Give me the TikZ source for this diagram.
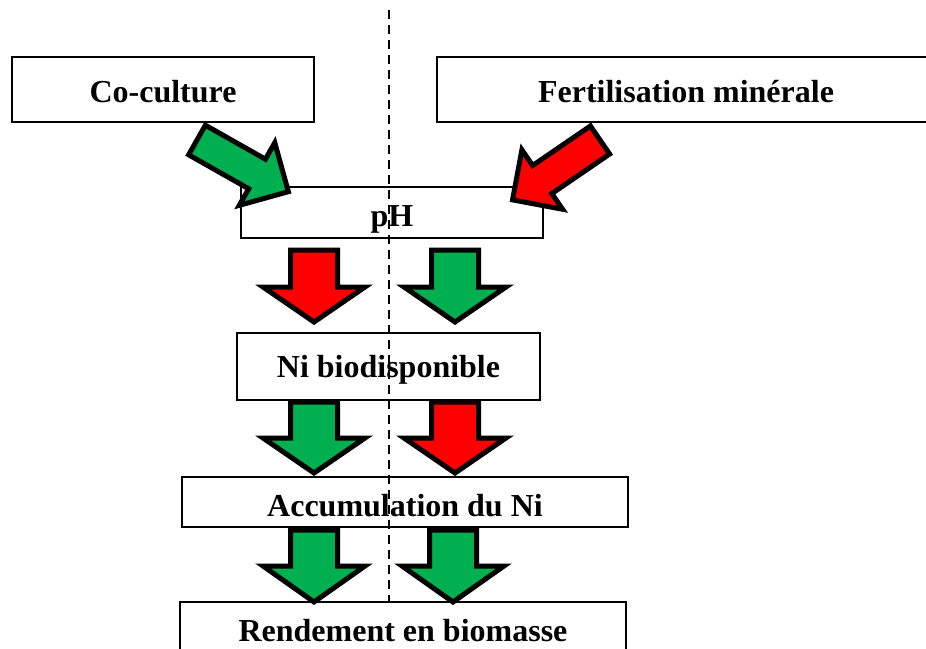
\documentclass[tikz,border=0pt]{standalone}
\usepackage{fontspec}
\setmainfont{Liberation Serif}
\definecolor{okgreen}{HTML}{00B050}
\definecolor{badred}{HTML}{FF0000}
\tikzset{
  box/.style={draw=black, line width=1.6pt, fill=white, inner sep=0pt},
  lbl/.style={inner sep=0pt, font=\bfseries\fontsize{32}{36}\selectfont},
  fatarrowstyle/.style={draw=black, line width=5pt, line join=miter, miter limit=10},
  sepline/.style={draw=black, line width=1.5pt, dash pattern=on 9pt off 6pt}
}
% #1 colour, #2 x, #3 y (tail centre), #4 angle, #5 length, #6 head length, #7 shaft width, #8 head width
\newcommand\fatarrow[8]{%
  \begin{scope}[shift={(#2,#3)}, rotate=#4]
    \filldraw[fatarrowstyle, fill=#1]
      (0,-#7/2) -- (#5-#6,-#7/2) -- (#5-#6,-#8/2) -- (#5,0) -- (#5-#6,#8/2)
      -- (#5-#6,#7/2) -- (0,#7/2) -- cycle;
  \end{scope}}
\begin{document}
\begin{tikzpicture}[x=1pt, y=-1pt]
\clip (0,0) rectangle (926,648);
\useasboundingbox (0,0) rectangle (926,648);
% boxes
\node[box, minimum width=302pt, minimum height=65pt] (cocult) at (163,89.5) {};
\node[box, minimum width=498pt, minimum height=65pt] (fert) at (686,89.5) {};
\node[box, minimum width=302pt, minimum height=51pt] (ph) at (392,212.5) {};
\node[box, minimum width=303pt, minimum height=67pt] (ni) at (388.5,366.5) {};
\node[box, minimum width=446pt, minimum height=50pt] (acc) at (405,502) {};
\node[box, minimum width=446pt, minimum height=63pt] (rend) at (403,633.5) {};
% separator
\coordinate (septop) at (389,10);
\coordinate (sepbot) at (389,603);
\draw[sepline] (septop) -- (sepbot);
% texts
\node[lbl] (cocultlbl) at (163,92) {Co-culture};
\node[lbl] (fertlbl) at (686,92) {Fertilisation minérale};
\node[lbl] (phlbl) at (392,219) {pH};
\node[lbl] (nilbl) at (388.5,370) {Ni biodisponible};
\node[lbl] (acclbl) at (405,506) {Accumulation du Ni};
\node[lbl] (rendlbl) at (403,631) {Rendement en biomasse};
% diagonal arrows
\fatarrow{okgreen}{197}{140}{-29.5}{105}{36}{34}{72}
\fatarrow{badred}{600}{140}{-145.6}{106}{36}{34}{72}
% row 1
\fatarrow{badred}{314}{250}{-90}{72}{35}{47}{102}
\fatarrow{okgreen}{455}{250}{-90}{72}{35}{47}{102}
% row 2
\fatarrow{okgreen}{314}{402}{-90}{71}{35}{47}{102}
\fatarrow{badred}{455}{402}{-90}{71}{35}{47}{102}
% row 3
\fatarrow{okgreen}{314}{530}{-90}{72}{36}{47}{102}
\fatarrow{okgreen}{453}{530}{-90}{72}{36}{47}{102}
\end{tikzpicture}
\end{document}
